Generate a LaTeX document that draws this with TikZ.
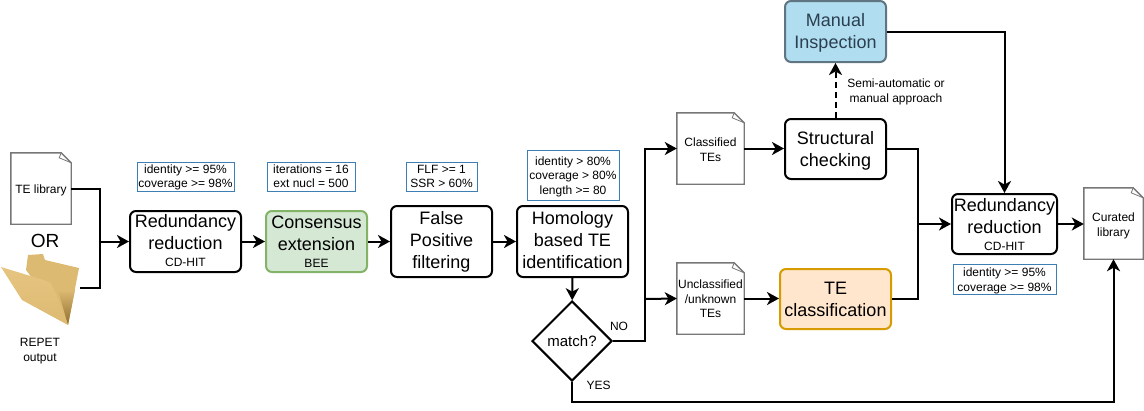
\documentclass[tikz,border=0pt]{standalone}
\usepackage{fontspec}
\setmainfont{Liberation Sans}
\usetikzlibrary{arrows.meta,shapes.geometric}
\newcommand{\bigtxt}{\fontsize{18}{22}\selectfont}
\newcommand{\smalltxt}{\fontsize{12}{14.5}\selectfont}
\tikzset{
  every node/.append style={inner sep=0pt,align=center},
  base off/.style={text height=2*#1,text depth=0pt},
  step box/.style={draw=black,line width=2pt,rounded corners=6pt,font=\bigtxt,base off=#1},
  info box/.style={draw=infoblue,line width=1pt,font=\smalltxt,base off=#1},
  doc box/.style={font=\smalltxt,base off=#1},
  doc line/.style={draw=docgray,line width=1.4pt,line join=miter},
  link/.style={line width=2pt,line join=miter},
  flow/.style={link,-{Stealth[length=12pt,width=13pt,inset=3.5pt]}},
}
\definecolor{infoblue}{HTML}{3D7FB5}
\definecolor{docgray}{HTML}{777777}
\definecolor{greenfill}{HTML}{D5E8D4}
\definecolor{greenline}{HTML}{82B366}
\definecolor{orangefill}{HTML}{FFE6CC}
\definecolor{orangeline}{HTML}{D79B00}
\definecolor{bluefill}{HTML}{B1DDF0}
\definecolor{blueline}{HTML}{5F7581}
\definecolor{bluetext}{HTML}{2A3F4F}
\definecolor{folderlight}{HTML}{E6C581}
\definecolor{foldermid}{HTML}{DDBA72}
\definecolor{folderdark}{HTML}{8F6E2E}
\begin{document}
\begin{tikzpicture}[x=1pt,y=-1pt]
\useasboundingbox (0,0) rectangle (1144,410);
\node[doc box=4.8pt,minimum width=60pt,minimum height=71pt] (telib) at (41,188.5) {TE library};
\node[font=\fontsize{19}{22}\selectfont] (ortxt) at (45,240.5) {OR};
\node[minimum width=80pt,minimum height=76pt] (folder) at (40,288) {};
\fill[foldermid] (26,270) -- (28,255) -- (43,254) -- (45,260) -- (79,268) -- (68,325) -- cycle;
\shade[top color=foldermid,bottom color=folderdark] (58,290) -- (75,290) -- (68,325) -- cycle;
\shade[top color=folderlight,bottom color=foldermid] (1,267) -- (50,282) .. controls (58,296) and (62,310) .. (68,325) -- (22,300) -- cycle;
\node[font=\smalltxt] (repet) at (40,351) {REPET\\output};
\node[step box=25.2pt,minimum width=111pt,minimum height=61pt] (redund) at (185.5,241.5) {Redundancy\\reduction\\[-5pt]{\smalltxt CD-HIT}};
\node[info box=11.2pt,minimum width=97pt,minimum height=29pt] (redinfo) at (185.5,176.5) {identity >= 95\%\\coverage >= 98\%};
\node[step box=25.8pt,draw=greenline,fill=greenfill,minimum width=101pt,minimum height=61pt] (consensus) at (316.5,241.5) {Consensus\\extension\\[-5pt]{\smalltxt BEE}};
\node[info box=11.2pt,minimum width=88pt,minimum height=29pt] (coninfo) at (311,176.5) {iterations = 16\\ext nucl = 500};
\node[step box=27pt,minimum width=101pt,minimum height=71pt] (falsepos) at (441.5,241.5) {False\\Positive\\filtering};
\node[info box=11.2pt,minimum width=71pt,minimum height=29pt] (falinfo) at (441.5,176.5) {FLF >= 1\\SSR > 60\%};
\node[step box=27pt,minimum width=111pt,minimum height=71pt] (homology) at (572.5,241.5) {Homology\\based TE\\identification};
\node[info box=19.3pt,minimum width=92pt,minimum height=50pt] (hominfo) at (573,175) {identity > 80\%\\coverage > 80\%\\length >= 80};
\node[diamond,draw=black,line width=2pt,minimum width=80pt,minimum height=80pt,font=\fontsize{15}{18}\selectfont,base off=5.7pt] (match) at (572,341) {match?};
\node[font=\smalltxt] (notxt) at (619,326) {NO};
\node[font=\smalltxt] (yestxt) at (598.5,385.5) {YES};
\node[doc box=12.5pt,minimum width=67pt,minimum height=71pt] (classified) at (710.5,148.5) {Classified\\TEs};
\node[doc box=19.2pt,minimum width=67pt,minimum height=71pt] (unclass) at (710.5,298.5) {Unclassified\\/unknown\\TEs};
\node[step box=17pt,minimum width=101pt,minimum height=60pt] (structural) at (835.5,149) {Structural\\checking};
\node[step box=17.7pt,draw=orangeline,fill=orangefill,minimum width=111pt,minimum height=60pt] (teclass) at (835.5,299) {TE\\classification};
\node[step box=16.5pt,draw=blueline,fill=bluefill,text=bluetext,minimum width=101pt,minimum height=61pt] (manual) at (835.5,31.5) {Manual\\Inspection};
\node[font=\smalltxt] (semi) at (896,92) {Semi-automatic or\\manual approach};
\node[step box=26pt,minimum width=105pt,minimum height=60pt] (redundtwo) at (1004.5,224) {Redundancy\\reduction\\[-5pt]{\smalltxt CD-HIT}};
\node[info box=12pt,minimum width=103pt,minimum height=30pt] (redtwoinfo) at (1004.5,279) {identity >= 95\%\\coverage >= 98\%};
\node[doc box=12.5pt,minimum width=59pt,minimum height=71pt] (curated) at (1113.5,223.5) {Curated\\library};
\foreach \doc in {telib,classified,unclass,curated} {
  \draw[doc line] (\doc.north west) -- ([xshift=-10pt]\doc.north east) -- ([yshift=-10pt]\doc.north east) -- (\doc.south east) -- (\doc.south west) -- cycle;
  \draw[doc line,line width=0.8pt] ([xshift=-10pt]\doc.north east) -- ([xshift=-12pt,yshift=-5pt]\doc.north east) -- ([yshift=-10pt]\doc.north east);
}
\coordinate (joinin) at (100,241.5);
\coordinate (joinno) at (645,299);
\coordinate (joinout) at (917.5,224);
\coordinate (yesbend) at (572,402);
\draw[link] (telib.east) -| (joinin);
\draw[link] (folder.east) -| (joinin);
\draw[flow] (joinin) -- (redund);
\draw[flow] (redund) -- (consensus);
\draw[flow] (consensus) -- (falsepos);
\draw[flow] (falsepos) -- (homology);
\draw[flow] (homology) -- (match);
\draw[flow] (match.east) -| (joinno) |- (classified.west);
\draw[flow] (joinno) -- (unclass.west);
\draw[flow] (classified.east) -- (classified.east -| structural.west);
\draw[flow] (unclass.east) -- (unclass.east -| teclass.west);
\draw[flow,dash pattern=on 6pt off 4pt] (structural) -- (manual);
\draw[flow] (manual.east) -| (redundtwo.north);
\draw[link] (structural.east) -| (joinout);
\draw[link] (teclass.east) -| (joinout);
\draw[flow] (joinout) -- (redundtwo.west);
\draw[flow] (redundtwo.east) -- (redundtwo.east -| curated.west);
\draw[flow] (match.south) -- (yesbend) -| (curated.south);
\end{tikzpicture}
\end{document}
